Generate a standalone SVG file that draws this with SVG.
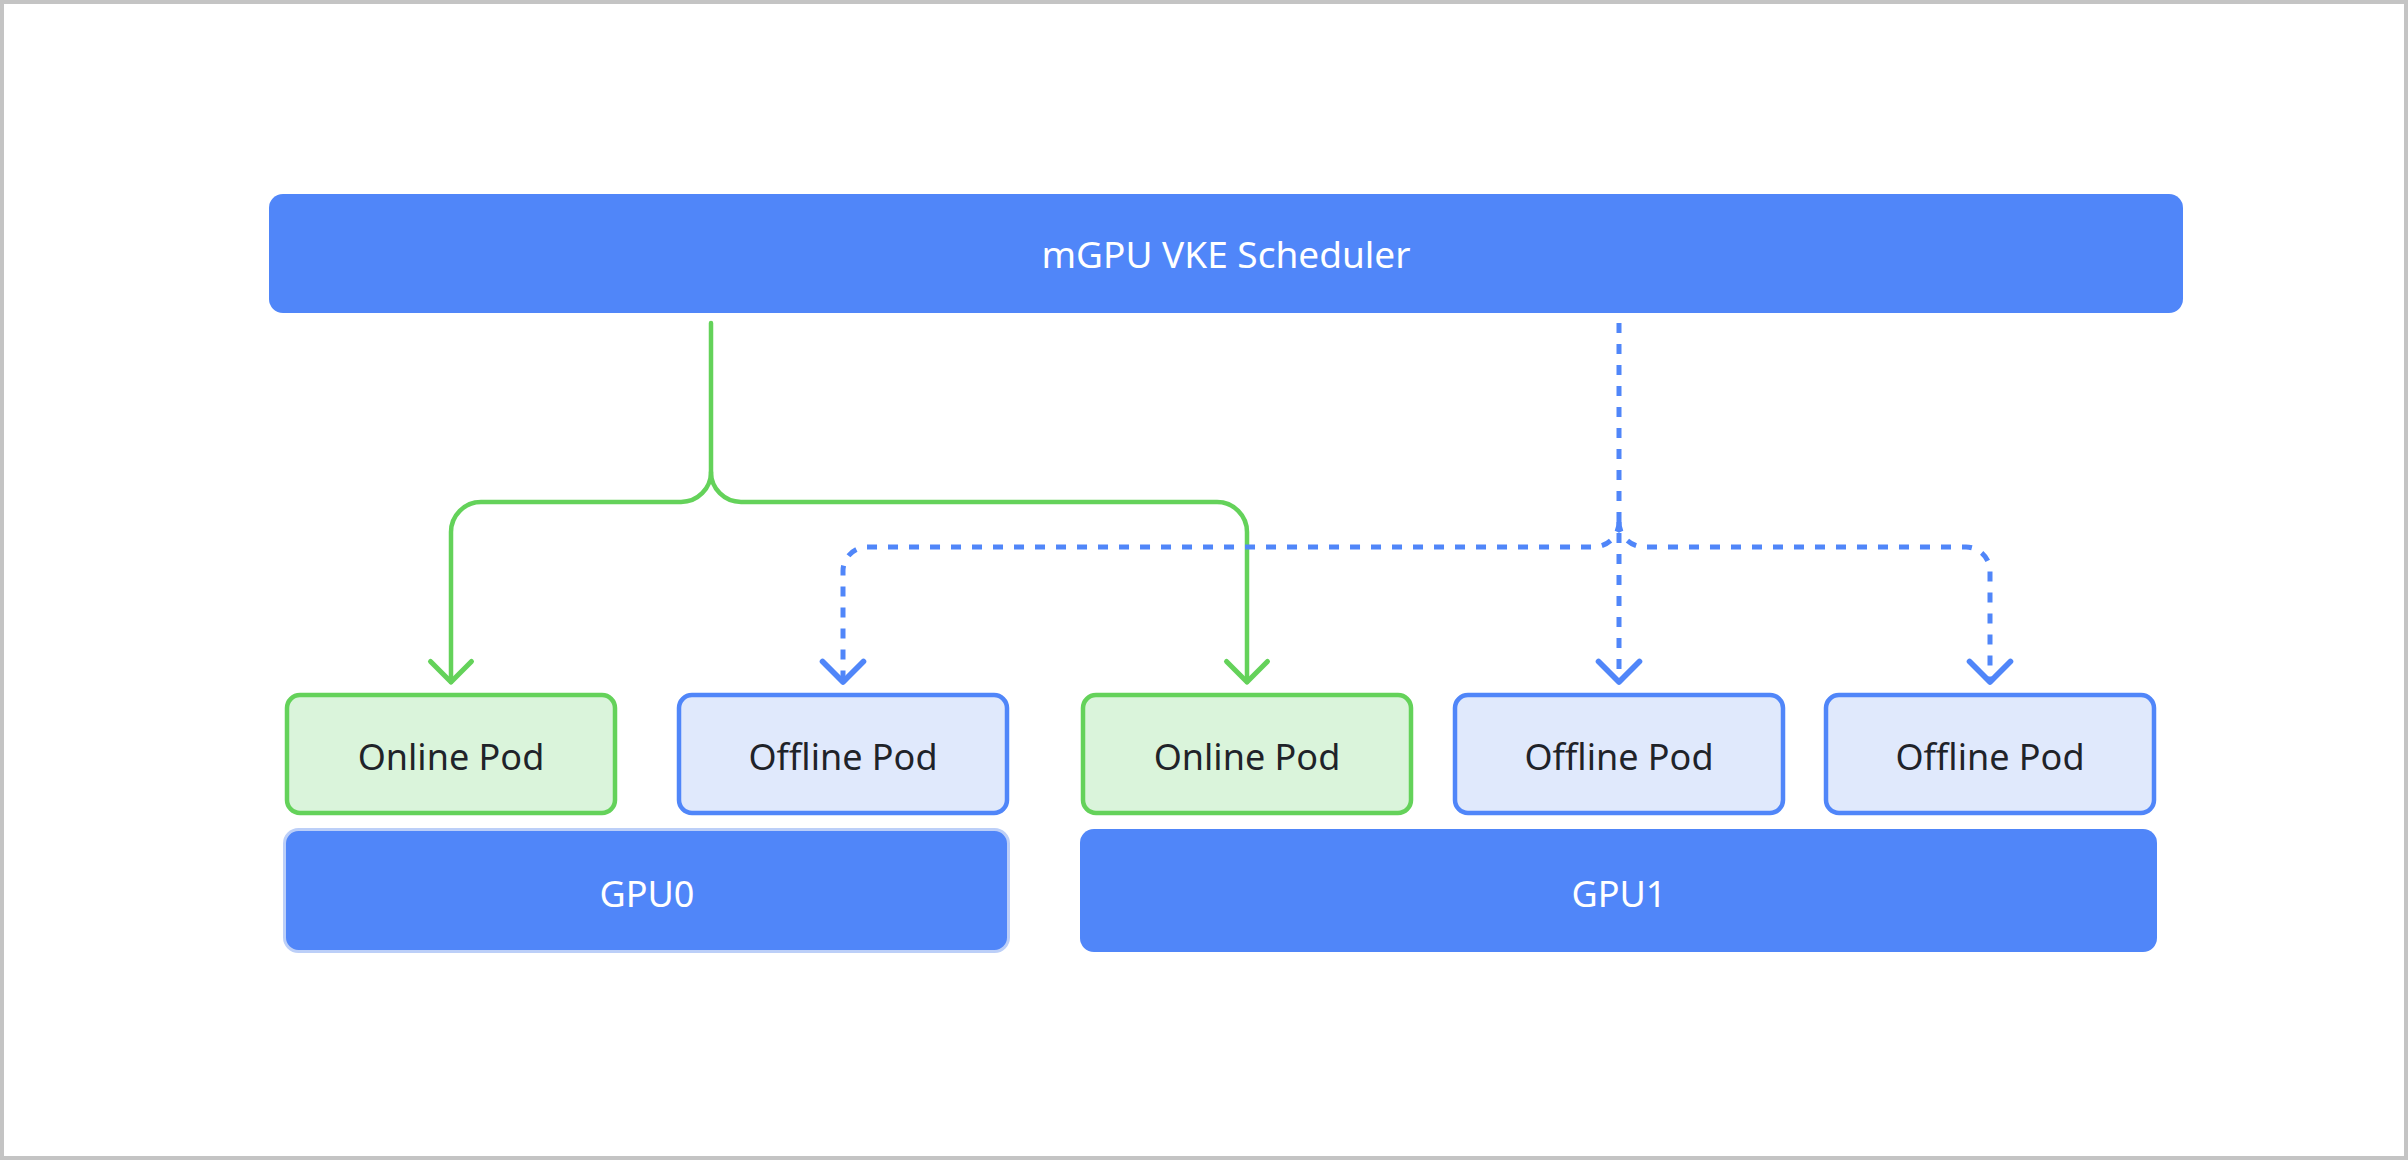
<svg xmlns="http://www.w3.org/2000/svg" width="2408" height="1160" viewBox="0 0 2408 1160">
  <style>
    .lbl { font-family: "Noto Sans", "Open Sans", sans-serif; font-size: 36px; text-anchor: middle; }
    .big { font-size: 37px; }
    .dark { fill: #1f2329; }
    .white { fill: #ffffff; }
    .online { fill: #daf4db; stroke: #64d25a; stroke-width: 4.5; }
    .offline { fill: #e0e9fc; stroke: #5086f9; stroke-width: 4.5; }
    .blue { fill: #5086f9; }
    .green-line { fill: none; stroke: #64d25a; stroke-width: 4.5; stroke-linecap: round; stroke-linejoin: round; }
    .blue-line { fill: none; stroke: #5086f9; stroke-width: 5; stroke-dasharray: 10 11; }
  </style>
  <defs>
    <marker id="arrow-green" markerUnits="userSpaceOnUse" markerWidth="40" markerHeight="50" viewBox="-4 -4 30 44" refX="18" refY="18" orient="auto">
      <path d="M0,0 L18,18 L0,36" fill="none" stroke="#64d25a" stroke-width="4.5" stroke-linecap="round" stroke-linejoin="round"/>
    </marker>
    <marker id="arrow-blue" markerUnits="userSpaceOnUse" markerWidth="40" markerHeight="50" viewBox="-4 -4 30 44" refX="18" refY="18" orient="auto">
      <path d="M0,0 L18,18 L0,36" fill="none" stroke="#5086f9" stroke-width="5" stroke-linecap="round" stroke-linejoin="round"/>
    </marker>
  </defs>

  <rect x="0" y="0" width="2408" height="1160" fill="#ffffff"/>
  <rect x="2" y="2" width="2404" height="1156" fill="none" stroke="#c4c4c4" stroke-width="4"/>

  <g id="scheduler">
    <rect class="blue" x="269" y="194" width="1914" height="119" rx="14"/>
    <text class="lbl big white" x="1226" y="268">mGPU VKE Scheduler</text>
  </g>

  <g id="online-pod-1">
    <rect class="online" x="287" y="695" width="328" height="118" rx="13"/>
    <text class="lbl dark" x="451" y="770">Online Pod</text>
  </g>
  <g id="offline-pod-1">
    <rect class="offline" x="679" y="695" width="328" height="118" rx="13"/>
    <text class="lbl dark" x="843" y="770">Offline Pod</text>
  </g>
  <g id="online-pod-2">
    <rect class="online" x="1083" y="695" width="328" height="118" rx="13"/>
    <text class="lbl dark" x="1247" y="770">Online Pod</text>
  </g>
  <g id="offline-pod-2">
    <rect class="offline" x="1455" y="695" width="328" height="118" rx="13"/>
    <text class="lbl dark" x="1619" y="770">Offline Pod</text>
  </g>
  <g id="offline-pod-3">
    <rect class="offline" x="1826" y="695" width="328" height="118" rx="13"/>
    <text class="lbl dark" x="1990" y="770">Offline Pod</text>
  </g>

  <g id="gpu0">
    <rect class="blue" x="284.5" y="829.5" width="724" height="122" rx="14" stroke="#bccff8" stroke-width="3"/>
    <text class="lbl white" x="647" y="907">GPU0</text>
  </g>
  <g id="gpu1">
    <rect class="blue" x="1080" y="829" width="1077" height="123" rx="14"/>
    <text class="lbl white" x="1619" y="907">GPU1</text>
  </g>

  <g id="connectors">
    <path class="green-line" d="M711 323 V472 A30 30 0 0 1 681 502 H481 A30 30 0 0 0 451 532 V682" marker-end="url(#arrow-green)"/>
    <path class="green-line" d="M711 472 A30 30 0 0 0 741 502 H1217 A30 30 0 0 1 1247 532 V682" marker-end="url(#arrow-green)"/>
    <path class="blue-line" d="M1619 323 V682" marker-end="url(#arrow-blue)"/>
    <path class="blue-line" d="M1619 522 A25 25 0 0 1 1594 547 H867 A24 24 0 0 0 843 571 V682" marker-end="url(#arrow-blue)"/>
    <path class="blue-line" d="M1619 522 A25 25 0 0 0 1644 547 H1966 A24 24 0 0 1 1990 571 V682" marker-end="url(#arrow-blue)"/>
  </g>
</svg>
